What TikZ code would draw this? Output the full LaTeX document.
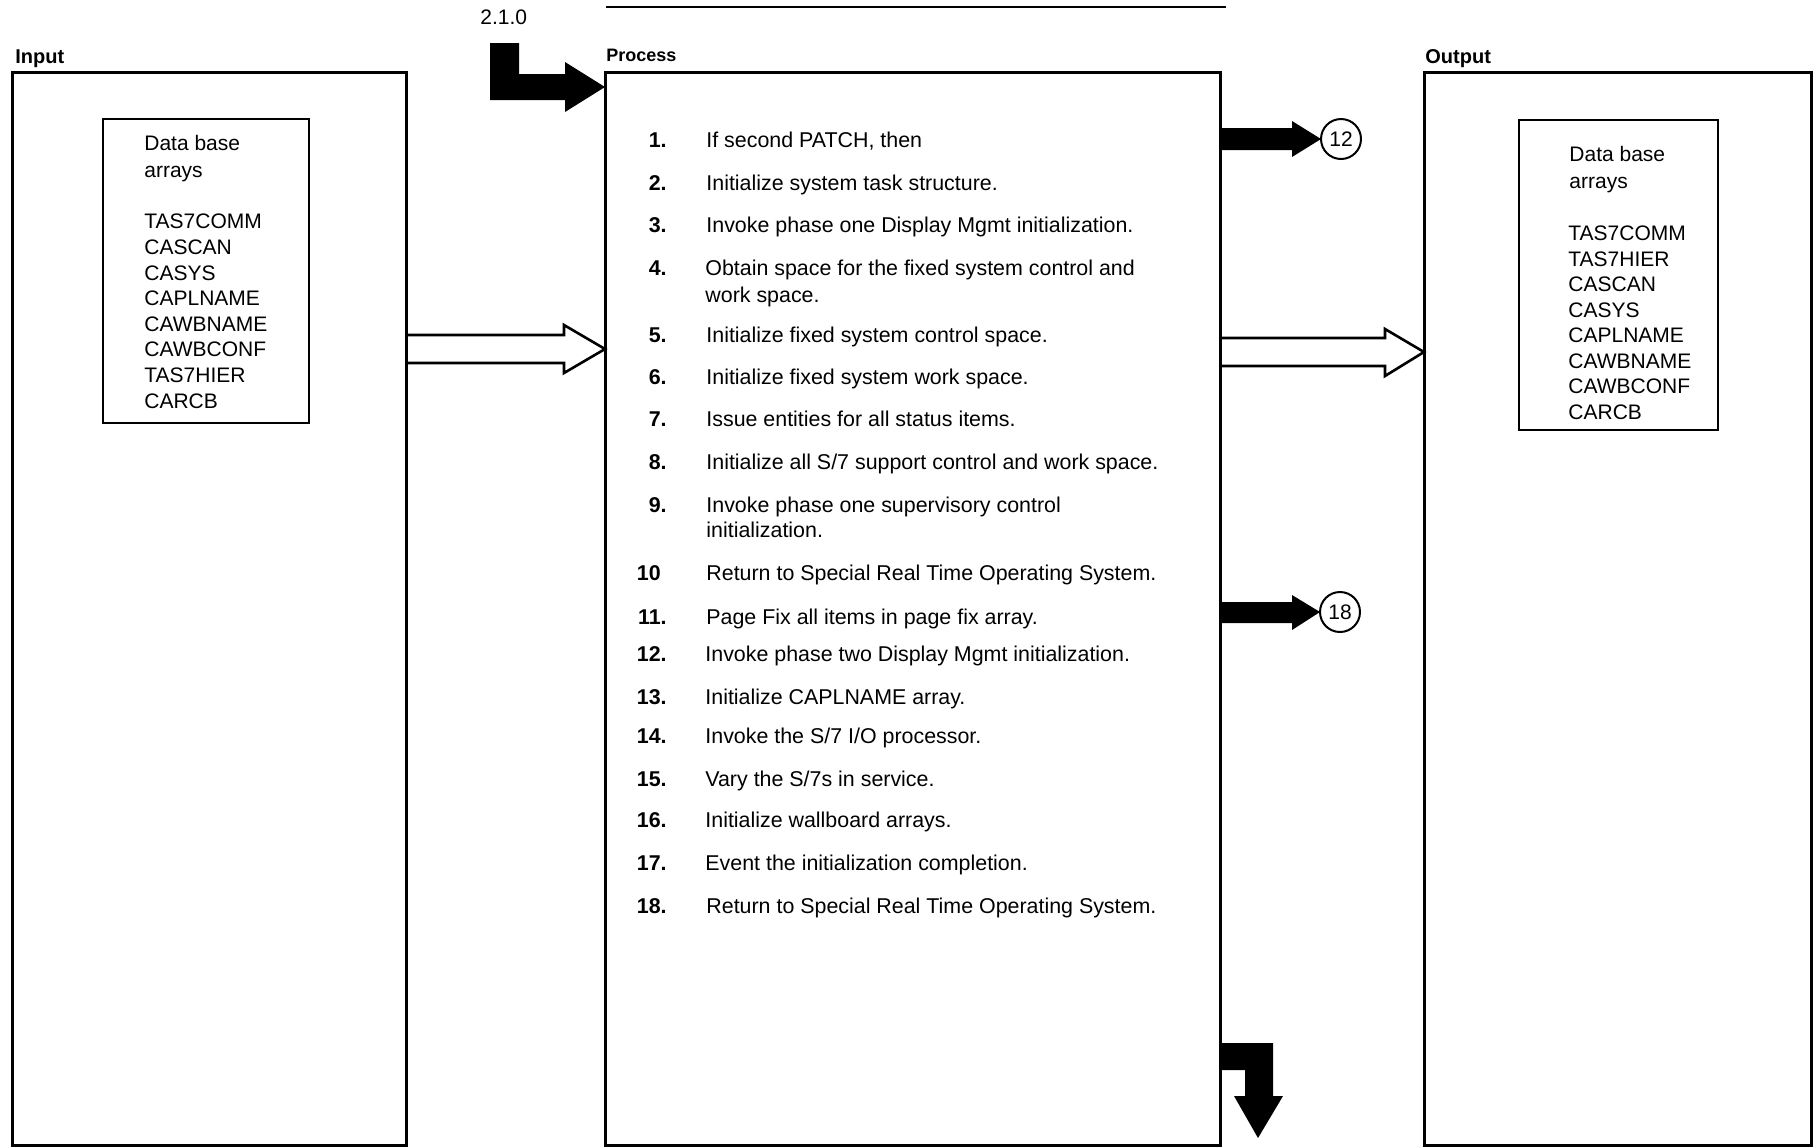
\documentclass[tikz,border=0pt]{standalone}
\usepackage{fontspec}
\setmainfont{Liberation Sans}
\usetikzlibrary{fit,calc}
\begin{document}
\begin{tikzpicture}[x=0.5pt,y=-0.5pt,
  frame/.style={draw, line width=1.5pt, inner sep=0pt, outer sep=0pt},
  inbox/.style={draw, line width=1pt, inner sep=0pt, outer sep=0pt},
  lbl/.style={font=\fontsize{10}{12}\selectfont\bfseries, anchor=base west, inner sep=0pt},
  item/.style={font=\fontsize{10.7}{12}\selectfont, anchor=base west, inner sep=0pt},
  num/.style={font=\fontsize{10.7}{12}\selectfont\bfseries, anchor=base east, inner sep=0pt},
  db/.style={font=\fontsize{10.5}{12}\selectfont, anchor=base west, inner sep=0pt},
  conn/.style={draw, circle, line width=1pt, minimum size=20pt, inner sep=0pt, outer sep=0pt, font=\fontsize{10.5}{12}\selectfont},
  hollow/.style={draw, line width=1.3pt, line join=miter},
  solid/.style={fill=black}
]
\useasboundingbox (0,0) rectangle (1820,1147);

% top rule
\coordinate (tl) at (606,7);
\coordinate (tr) at (1226,7);
\draw[line width=1.2pt] (tl) -- (tr);

% labels
\node[lbl] (linput) at (15,63) {Input};
\node[lbl, font=\fontsize{9}{11}\selectfont\bfseries] (lprocess) at (606,61) {Process};
\node[lbl] (loutput) at (1425,63) {Output};
\node[item, font=\fontsize{10.5}{12}\selectfont] (sect) at (480,24) {2.1.0};

% frames
\node[frame, fit={(12,72) (406,1145)}] (input) {};
\node[frame, fit={(605,72) (1220,1145)}] (process) {};
\node[frame, fit={(1424,72) (1811,1145)}] (output) {};
\node[inbox, fit={(103,119) (309,423)}] (indb) {};
\node[inbox, fit={(1519,120) (1718,430)}] (outdb) {};

% input data base list
\node[db] (i1) at (144,150) {Data base};
\node[db] (i2) at (144,177) {arrays};
\node[db] (i3) at (144,228) {TAS7COMM};
\node[db] (i4) at (144,254) {CASCAN};
\node[db] (i5) at (144,280) {CASYS};
\node[db] (i6) at (144,305) {CAPLNAME};
\node[db] (i7) at (144,331) {CAWBNAME};
\node[db] (i8) at (144,356) {CAWBCONF};
\node[db] (i9) at (144,382) {TAS7HIER};
\node[db] (i10) at (144,408) {CARCB};

% output data base list
\node[db] (o1) at (1569,161) {Data base};
\node[db] (o2) at (1569,188) {arrays};
\node[db] (o3) at (1568,240) {TAS7COMM};
\node[db] (o4) at (1568,266) {TAS7HIER};
\node[db] (o5) at (1568,291) {CASCAN};
\node[db] (o6) at (1568,317) {CASYS};
\node[db] (o7) at (1568,342) {CAPLNAME};
\node[db] (o8) at (1568,368) {CAWBNAME};
\node[db] (o9) at (1568,393) {CAWBCONF};
\node[db] (o10) at (1568,419) {CARCB};

% process steps
\node[num] (n1) at (667,147) {1.};   \node[item] (t1) at (706,147) {If second PATCH, then};
\node[num] (n2) at (667,190) {2.};   \node[item] (t2) at (706,190) {Initialize system task structure.};
\node[num] (n3) at (667,232) {3.};   \node[item] (t3) at (706,232) {Invoke phase one Display Mgmt initialization.};
\node[num] (n4) at (667,275) {4.};   \node[item] (t4) at (705,275) {Obtain space for the fixed system control and};
                                     \node[item] (t4b) at (705,302) {work space.};
\node[num] (n5) at (667,342) {5.};   \node[item] (t5) at (706,342) {Initialize fixed system control space.};
\node[num] (n6) at (667,384) {6.};   \node[item] (t6) at (706,384) {Initialize fixed system work space.};
\node[num] (n7) at (667,426) {7.};   \node[item] (t7) at (706,426) {Issue entities for all status items.};
\node[num] (n8) at (667,469) {8.};   \node[item] (t8) at (706,469) {Initialize all S/7 support control and work space.};
\node[num] (n9) at (667,512) {9.};   \node[item] (t9) at (706,512) {Invoke phase one supervisory control};
                                     \node[item] (t9b) at (706,537) {initialization.};
\node[num] (n10) at (667,580) {10\phantom{.}}; \node[item] (t10) at (706,580) {Return to Special Real Time Operating System.};
\node[num] (n11) at (667,624) {11.}; \node[item] (t11) at (706,624) {Page Fix all items in page fix array.};
\node[num] (n12) at (667,661) {12.}; \node[item] (t12) at (705,661) {Invoke phase two Display Mgmt initialization.};
\node[num] (n13) at (667,704) {13.}; \node[item] (t13) at (705,704) {Initialize CAPLNAME array.};
\node[num] (n14) at (667,743) {14.}; \node[item] (t14) at (705,743) {Invoke the S/7 I/O processor.};
\node[num] (n15) at (667,786) {15.}; \node[item] (t15) at (705,786) {Vary the S/7s in service.};
\node[num] (n16) at (667,827) {16.}; \node[item] (t16) at (705,827) {Initialize wallboard arrays.};
\node[num] (n17) at (667,870) {17.}; \node[item] (t17) at (705,870) {Event the initialization completion.};
\node[num] (n18) at (667,913) {18.}; \node[item] (t18) at (706,913) {Return to Special Real Time Operating System.};

% off-page connectors
\node[conn] (c12) at (1341,139) {12};
\node[conn] (c18) at (1340,612) {18};

% entry arrow
\fill[solid] (490,43) -- (519,43) -- (519,74) -- (565,74) -- (565,62)
  -- (process.west |- 0,87) -- (565,112) -- (565,100) -- (490,100) -- cycle;

% filled arrows to connectors
\fill[solid] (process.east |- 0,128) -- (1292,128) -- (1292,121) -- (c12.west)
  -- (1292,157) -- (1292,150) -- (process.east |- 0,150) -- cycle;
\fill[solid] (process.east |- 0,602) -- (1292,602) -- (1292,595) -- (c18.west)
  -- (1292,630) -- (1292,623) -- (process.east |- 0,623) -- cycle;

% exit arrow at bottom
\fill[solid] (process.east |- 0,1043) -- (1273,1043) -- (1273,1096) -- (1283,1096)
  -- (1258,1138) -- (1234,1096) -- (1245,1096) -- (1245,1070) -- (process.east |- 0,1070) -- cycle;

% hollow data flow arrows
\draw[hollow] (input.east |- 0,335) -- (564,335) -- (564,325) -- (process.west |- 0,349)
  -- (564,373) -- (564,363) -- (input.east |- 0,363);
\draw[hollow] (process.east |- 0,338) -- (1385,338) -- (1385,329) -- (output.west |- 0,352)
  -- (1385,376) -- (1385,366) -- (process.east |- 0,366);
\end{tikzpicture}
\end{document}
